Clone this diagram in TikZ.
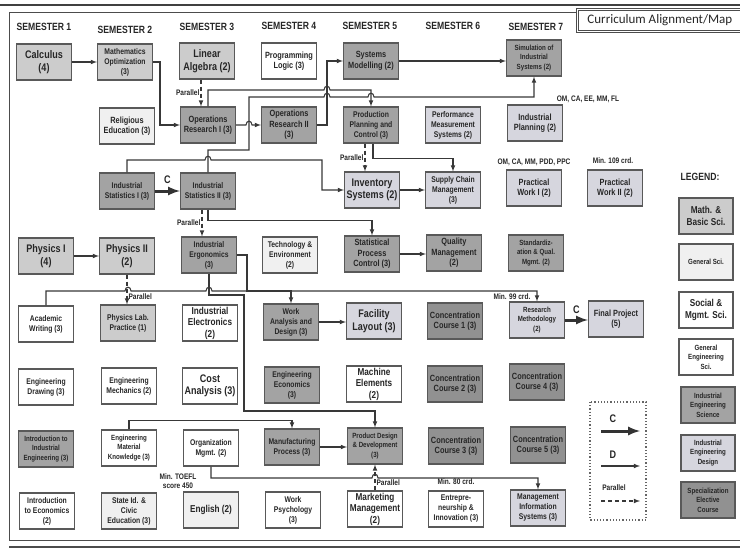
\documentclass[tikz,border=0pt]{standalone}
\usepackage{fontspec}
\setmainfont{Liberation Sans}[FakeStretch=0.82]
\newfontfamily\titlefont{Carlito}
\usepackage{tikz}
\definecolor{iedfill}{RGB}{214,214,222}
\tikzset{course/.style={draw=black!65,line width=1.1pt,minimum width=55pt,minimum height=36pt,inner sep=1pt,align=center,text=black!85},
mbs/.style={course,fill=black!20},
gsc/.style={course,fill=black!6},
sms/.style={course,fill=white},
ges/.style={course,fill=white},
ies/.style={course,fill=black!36},
ied/.style={course,fill=iedfill},
sec/.style={course,fill=black!43},
fbig/.style={font=\fontsize{11}{12.5}\selectfont\bfseries},
flarge/.style={font=\fontsize{10}{11.5}\selectfont\bfseries},
fmid/.style={font=\fontsize{9}{10.5}\selectfont\bfseries},
fsm/.style={font=\fontsize{8.3}{10}\selectfont\bfseries},
ftiny/.style={font=\fontsize{7.5}{9.5}\selectfont\bfseries},
edgetag/.style={font=\fontsize{8}{9.5}\selectfont\bfseries,text=black!85,inner sep=1pt,align=center},
clabel/.style={font=\fontsize{11}{12}\selectfont\bfseries,text=black!85,inner sep=1pt},
semhead/.style={font=\fontsize{10.5}{12}\selectfont\bfseries,text=black!85},
dline/.style={draw=black!78,line width=1.1pt,-latex},
cline/.style={draw=black!80,line width=3pt,-latex},
pline/.style={draw=black!78,line width=1.1pt,dash pattern=on 4pt off 3pt,-latex}}
\begin{document}
\begin{tikzpicture}[x=1pt,y=-1pt]
\useasboundingbox (0,0) rectangle (740,551);
\draw[line width=2.5pt,black!75] (0,5) -- (740,5);
\draw[line width=1pt,black!70] (576,13) -- (9,13) -- (9,540) -- (740,540);
\draw[line width=1.5pt,black!70] (9,547) -- (740,547);
\node[draw=black!70,double,double distance=1.2pt,line width=0.8pt,fill=white,minimum width=165pt,minimum height=22pt,anchor=north west,text=black!85,font=\titlefont\fontsize{13}{14}\selectfont] (title) at (577,9) {Curriculum Alignment/Map};

\node[semhead] (sem1) at (44,27) {SEMESTER 1};
\node[semhead] (sem2) at (125,30) {SEMESTER 2};
\node[semhead] (sem3) at (207,27) {SEMESTER 3};
\node[semhead] (sem4) at (289,26) {SEMESTER 4};
\node[semhead] (sem5) at (370,26) {SEMESTER 5};
\node[semhead] (sem6) at (453,26) {SEMESTER 6};
\node[semhead] (sem7) at (536,27) {SEMESTER 7};

\node[mbs,fbig] (calc) at (44,62) {Calculus\\(4)};
\node[mbs,fsm] (mopt) at (125,62) {Mathematics\\Optimization\\(3)};
\node[mbs,fbig] (linalg) at (207,61) {Linear\\Algebra (2)};
\node[ges,fmid] (prog) at (289,61) {Programming\\Logic (3)};
\node[ies,fmid] (sysmod) at (371,61) {Systems\\Modelling (2)};
\node[ies,ftiny] (simul) at (534,58) {Simulation of\\Industrial\\Systems (2)};

\node[gsc,fmid] (relig) at (127,126) {Religious\\Education (3)};
\node[ies,fmid] (or1) at (208,125) {Operations\\Research I (3)};
\node[ies,fmid] (or2) at (289,125) {Operations\\Research II\\(3)};
\node[ies,fsm] (ppc) at (371,125) {Production\\Planning and\\Control (3)};
\node[ied,fsm] (pms) at (453,125) {Performance\\Measurement\\Systems (2)};
\node[ied,fmid] (iplan) at (535,123) {Industrial\\Planning (2)};

\node[ies,fsm] (stat1) at (127,191) {Industrial\\Statistics I (3)};
\node[ies,fsm] (stat2) at (208,191) {Industrial\\Statistics II (3)};
\node[ied,fbig] (invent) at (372,190) {Inventory\\Systems (2)};
\node[ied,fsm] (scm) at (453,190) {Supply Chain\\Management\\(3)};
\node[ied,fmid] (pw1) at (534,188) {Practical\\Work I (2)};
\node[ied,fmid] (pw2) at (615,188) {Practical\\Work II (2)};

\node[mbs,fbig] (phys1) at (46,256) {Physics I\\(4)};
\node[mbs,fbig] (phys2) at (127,256) {Physics II\\(2)};
\node[ies,fsm] (ergo) at (209,255) {Industrial\\Ergonomics\\(3)};
\node[gsc,fsm] (techenv) at (290,255) {Technology \&\\Environment\\(2)};
\node[ies,fmid] (spc) at (372,254) {Statistical\\Process\\Control (3)};
\node[ies,fmid] (qm) at (454,253) {Quality\\Management\\(2)};
\node[ies,ftiny] (stdq) at (536,253) {Standardiz-\\ation \& Qual.\\Mgmt. (2)};

\node[sms,fsm] (acwr) at (46,324) {Academic\\Writing (3)};
\node[mbs,fsm] (physlab) at (128,323) {Physics Lab.\\Practice (1)};
\node[ges,flarge] (indel) at (210,323) {Industrial\\Electronics\\(2)};
\node[ies,fsm] (wad) at (291,322) {Work\\Analysis and\\Design (3)};
\node[ied,fbig] (facil) at (374,321) {Facility\\Layout (3)};
\node[sec,fmid] (conc1) at (455,321) {Concentration\\Course 1 (3)};
\node[ied,ftiny] (resm) at (537,320) {Research\\Methodology\\(2)};
\node[ied,fmid] (fproj) at (616,319) {Final Project\\(5)};

\node[ges,fsm] (engdr) at (46,387) {Engineering\\Drawing (3)};
\node[ges,fsm] (engme) at (129,386) {Engineering\\Mechanics (2)};
\node[sms,fbig] (cost) at (210,386) {Cost\\Analysis (3)};
\node[ies,fsm] (engec) at (292,385) {Engineering\\Economics\\(3)};
\node[ges,flarge] (mach) at (374,384) {Machine\\Elements\\(2)};
\node[sec,fmid] (conc2) at (455,384) {Concentration\\Course 2 (3)};
\node[sec,fmid] (conc4) at (537,382) {Concentration\\Course 4 (3)};

\node[ies,ftiny] (intie) at (46,449) {Introduction to\\Industrial\\Engineering (3)};
\node[ges,ftiny] (emk) at (129,448) {Engineering\\Material\\Knowledge (3)};
\node[sms,fsm] (orgm) at (211,448) {Organization\\Mgmt. (2)};
\node[ies,fsm] (manuf) at (292,447) {Manufacturing\\Process (3)};
\node[ies,ftiny] (pdd) at (375,446) {Product Design\\\& Development\\(3)};
\node[sec,fmid] (conc3) at (456,446) {Concentration\\Course 3 (3)};
\node[sec,fmid] (conc5) at (538,445) {Concentration\\Course 5 (3)};

\node[sms,fsm] (intec) at (47,511) {Introduction\\to Economics\\(2)};
\node[gsc,fsm] (state) at (129,511) {State Id. \&\\Civic\\Education (3)};
\node[gsc,flarge] (engl) at (211,510) {English (2)};
\node[sms,fsm] (wpsy) at (293,510) {Work\\Psychology\\(3)};
\node[sms,flarge] (mark) at (375,509) {Marketing\\Management\\(2)};
\node[sms,fsm] (entre) at (456,509) {Entrepre-\\neurship \&\\Innovation (3)};
\node[ied,fsm] (mis) at (538,508) {Management\\Information\\Systems (3)};

\draw[dline] (calc) -- (mopt);
\draw[dline] (mopt.east) -- (160,62) |- (or1.west);
\draw[pline] ([xshift=-6pt]linalg.south) -- node[edgetag,left] (par1) {Parallel} ([xshift=-7pt]or1.north);
\draw[dline] (or1.east) -- (246,125) .. controls (246,120) and (252,120) .. (252,125) -- (or2.west);
\draw[dline] (or1.north) |- (324,90) .. controls (324,85) and (330,85) .. (330,90) -| (ppc.north);
\draw[dline] (stat2.north) |- (249,150) -- (249,97) -- (324,97) .. controls (324,92) and (330,92) .. (330,97) -- (368,97) .. controls (368,92) and (374,92) .. (374,97) -| (simul.south);
\draw[dline] (or2.east) -- (327,125) |- (sysmod.west);
\draw[dline] (sysmod.east) -- (sysmod.east -| simul.west);
\draw[pline] ([xshift=-6pt]ppc.south) -- node[edgetag,left] (par2) {Parallel} ([xshift=-7pt]invent.north);
\draw[dline] ([xshift=2pt]ppc.south) -- ++(0,15) -| (scm.north);
\draw[dline] (invent) -- (scm);
\draw[cline] (stat1) -- node[clabel,above=5pt] (clab1) {C} (stat2);
\draw[dline] (stat1.north) |- (205,160) .. controls (205,155) and (211,155) .. (211,160) -- (322,160) |- (invent.west);
\draw[pline] ([xshift=-6pt]stat2.south) -- node[edgetag,left] (par3) {Parallel} ([xshift=-7pt]ergo.north);
\draw[dline] (stat2.south) -- ++(0,11) -| (spc.north);
\draw[dline] (phys1) -- (phys2);
\draw[pline] (phys2.south) -- node[edgetag,right,pos=0.75] (par4) {Parallel} (phys2.south |- physlab.north);
\draw[dline] (acwr.north) |- (125,291) .. controls (125,286) and (131,286) .. (131,291) -- (206,291) .. controls (206,286) and (212,286) .. (212,291) -| (resm.north);
\draw[dline] (ergo.east) -| (247,291) -| (wad.north);
\draw[dline] (ergo.south) |- (244,295) -- (244,411) -| (pdd.north);
\draw[dline] (wad.east) -- (wad.east -| facil.west);
\draw[dline] (spc.east) -- (spc.east -| qm.west);
\draw[cline] (resm.east) -- node[clabel,above=4pt] (clab2) {C} (resm.east -| fproj.west);
\draw[dline] (emk.north) -- ++(0,-9) -| (manuf.north);
\draw[dline] (orgm.south) |- (372,478) .. controls (372,473) and (378,473) .. (378,478) -| (mis.north);
\draw[dline] (manuf.east) -- (manuf.east -| pdd.west);
\draw[pline] (mark.north) -- node[edgetag,right,pos=0.3] (par5) {Parallel} (pdd.south);

\node[edgetag] (reqip) at (588,99) {OM, CA, EE, MM, FL};
\node[edgetag] (reqpw1) at (534,162) {OM, CA, MM, PDD, PPC};
\node[edgetag] (reqpw2) at (613,161) {Min. 109 crd.};
\node[edgetag] (min99) at (512,297) {Min. 99 crd.};
\node[edgetag] (toefl) at (178,481) {Min. TOEFL\\score 450};
\node[edgetag] (min80) at (456,482) {Min. 80 crd.};

\node[semhead] (legend) at (700,177) {LEGEND:};
\node[mbs,flarge,minimum width=54pt] (lgmbs) at (706,216) {Math. \&\\Basic Sci.};
\node[gsc,ftiny,minimum width=54pt] (lggsc) at (706,262) {General Sci.};
\node[sms,flarge,minimum width=54pt] (lgsms) at (706,310) {Social \&\\Mgmt. Sci.};
\node[ges,ftiny,minimum width=54pt] (lgges) at (706,357) {General\\Engineering\\Sci.};
\node[ies,ftiny,minimum width=54pt] (lgies) at (708,405) {Industrial\\Engineering\\Science};
\node[ied,ftiny,minimum width=54pt] (lgied) at (708,453) {Industrial\\Engineering\\Design};
\node[sec,ftiny,minimum width=54pt] (lgsec) at (708,500) {Specialization\\Elective\\Course};

\draw[black!60,line width=1.2pt,dotted] (590,402) rectangle (646,520);
\node[clabel] (lgc) at (613,419) {C};
\coordinate (lgc1) at (601,431);
\coordinate (lgc2) at (640,431);
\draw[cline] (lgc1) -- (lgc2);
\node[clabel] (lgd) at (613,455) {D};
\coordinate (lgd1) at (601,466);
\coordinate (lgd2) at (640,466);
\draw[dline] (lgd1) -- (lgd2);
\node[edgetag] (lgp) at (614,488) {Parallel};
\coordinate (lgp1) at (601,501);
\coordinate (lgp2) at (640,501);
\draw[pline] (lgp1) -- (lgp2);
\end{tikzpicture}
\end{document}
